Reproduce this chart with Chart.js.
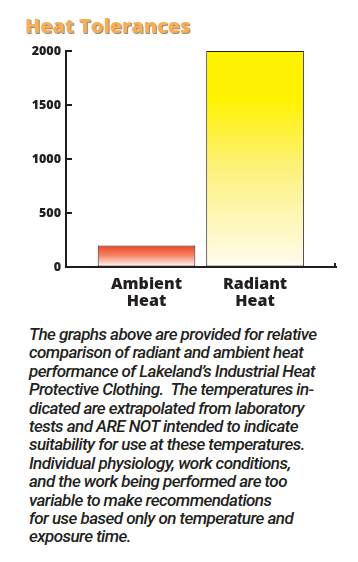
<!DOCTYPE html>
<html>
<head>
<meta charset="utf-8">
<script src="https://cdn.jsdelivr.net/npm/chart.js@4"></script>
<style>
  html, body { margin: 0; padding: 0; background: #fff; }
  #wrap { position: relative; width: 358px; height: 562px; overflow: hidden; }
  #title {
    position: absolute; left: 25px; top: 12px;
    font-family: "Open Sans", sans-serif; font-weight: 800; font-size: 20px;
    color: #f6ae57; letter-spacing: -0.1px;
    text-shadow: 1px 1px 0 #9a8a78;
  }
  #chartBox { position: absolute; left: 0; top: 0; width: 358px; height: 315px; }
  #note {
    position: absolute; left: 29px; top: 325px;
    font-family: Roboto, sans-serif; font-style: italic; font-weight: 500; font-size: 17px;
    line-height: 18.4px; color: #231f20; letter-spacing: -0.55px;
    white-space: nowrap;
  }
</style>
</head>
<body>
<div id="wrap">
  <div id="chartBox"><canvas id="heatChart"></canvas></div>
  <div id="title">Heat Tolerances</div>
  <div id="note">
    The graphs above are provided for relative<br>
    comparison of radiant and ambient heat<br>
    performance of Lakeland’s Industrial Heat<br>
    Protective Clothing.&nbsp; The temperatures in-<br>
    dicated are extrapolated from laboratory<br>
    tests and ARE NOT intended to indicate<br>
    suitability for use at these temperatures.<br>
    Individual physiology, work conditions,<br>
    and the work being performed are too<br>
    variable to make recommendations<br>
    for use based only on temperature and<br>
    exposure time.
  </div>
</div>
<script>
// datos del grafico
const categorias = [["Ambient", "Heat"], ["Radiant", "Heat"]];
const posiciones = [1, 2];
const valores = [200, 2000];
const yTicks = [0, 500, 1000, 1500, 2000];

// degradado de cada barra (arriba -> abajo)
const degradados = [
  [[0, "#ee4124"], [0.45, "#f5825f"], [1, "#ffffff"]],
  [[0, "#fff200"], [0.22, "#fff200"], [0.55, "#fdf17e"], [1, "#fffcee"]]
];

const ink = "#231f20";

function barFill(ctx) {
  const chart = ctx.chart;
  const i = ctx.dataIndex;
  if (!chart.chartArea) return degradados[i][0][1];
  const y = chart.scales.y;
  const top = y.getPixelForValue(valores[i]);
  const bottom = y.getPixelForValue(0);
  const g = chart.ctx.createLinearGradient(0, top, 0, bottom);
  degradados[i].forEach(([p, c]) => g.addColorStop(p, c));
  return g;
}

// marcas hacia dentro del eje
const innerTicks = {
  id: "innerTicks",
  afterDraw(chart) {
    const { ctx, scales: { x, y } } = chart;
    ctx.save();
    ctx.strokeStyle = ink;
    ctx.lineWidth = 2;
    yTicks.forEach(v => {
      const py = y.getPixelForValue(v);
      ctx.beginPath();
      ctx.moveTo(x.left, py);
      ctx.lineTo(x.left + 6, py);
      ctx.stroke();
    });
    const py0 = y.getPixelForValue(0);
    ctx.beginPath();
    ctx.moveTo(x.right - 1, py0);
    ctx.lineTo(x.right - 1, py0 - 4);
    ctx.stroke();
    ctx.restore();
  }
};

new Chart(document.getElementById("heatChart"), {
  type: "bar",
  data: {
    datasets: [{
      data: posiciones.map((p, i) => ({ x: p, y: valores[i] })),
      backgroundColor: barFill,
      borderColor: ink,
      borderWidth: 1,
      borderSkipped: false,
      barPercentage: 0.9,
      categoryPercentage: 1
    }]
  },
  options: {
    responsive: true,
    maintainAspectRatio: false,
    animation: false,
    layout: { padding: { top: 51, right: 22, left: 0, bottom: 0 } },
    plugins: { legend: { display: false }, tooltip: { enabled: false } },
    scales: {
      x: {
        type: "linear",
        offset: false,
        bounds: "data",
        min: 0.258,
        max: 2.746,
        afterBuildTicks: s => { s.ticks = posiciones.map(v => ({ value: v })); },
        afterFit: s => { s.height = 48; },
        grid: { drawOnChartArea: false, drawTicks: false },
        border: { display: true, color: ink, width: 2 },
        ticks: {
          padding: 9,
          color: ink,
          font: { family: "'Open Sans', sans-serif", weight: "800", size: 16, lineHeight: 1.08 },
          callback: v => categorias[posiciones.indexOf(v)] || ""
        }
      },
      y: {
        min: 0,
        max: 2000,
        afterBuildTicks: s => { s.ticks = yTicks.map(v => ({ value: v })); },
        afterFit: s => { s.width = 66; },
        grid: { drawOnChartArea: false, drawTicks: false },
        border: { display: true, color: ink, width: 2 },
        ticks: {
          padding: 5,
          color: ink,
          font: { family: "'Open Sans', sans-serif", weight: "800", size: 12.5 },
          callback: v => String(v)
        }
      }
    }
  },
  plugins: [innerTicks]
});
</script>
</body>
</html>
